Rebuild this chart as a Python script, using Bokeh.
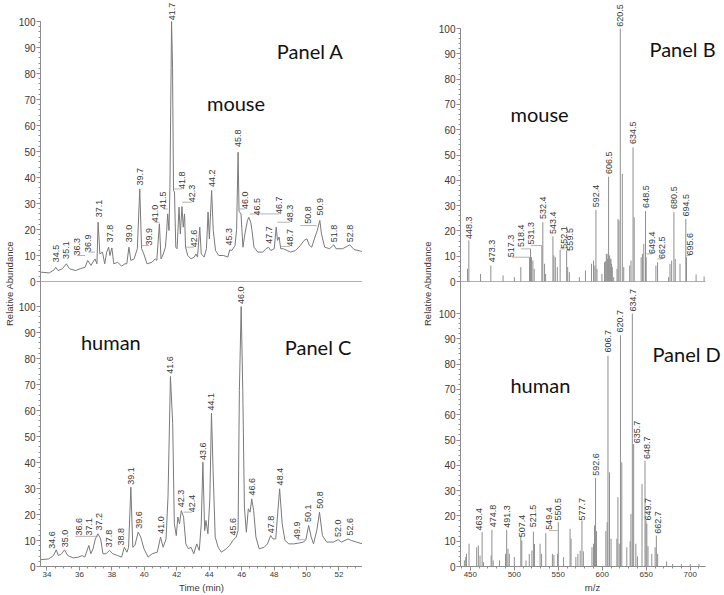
import math
from bokeh.plotting import figure
from bokeh.models import Range1d, LinearAxis, FixedTicker, Label, ColumnDataSource, CustomJSTickFormatter
from bokeh.layouts import row
from bokeh.embed import file_html
from bokeh.resources import INLINE
from bokeh.core.properties import value

# ---------------- data ----------------
abund_ticks = [0, 10, 20, 30, 40, 50, 60, 70, 80, 90, 100]
time_ticks = [34, 36, 38, 40, 42, 44, 46, 48, 50, 52]
mz_ticks = [450, 500, 550, 600, 650, 700]

# Panel A: mouse chromatogram
a_time = [33.60, 34.14, 34.44, 34.54, 34.68, 34.95, 35.19, 35.39, 35.75, 36.05, 36.35, 36.51, 36.71, 36.96,
          37.08, 37.15, 37.26, 37.42, 37.56, 37.68, 37.80, 37.88, 38.00, 38.12, 38.36, 38.60, 38.80, 38.92,
          39.05, 39.17, 39.37, 39.57, 39.72, 39.83, 39.97, 40.17, 40.47, 40.67, 40.77, 40.93, 41.03, 41.17,
          41.30, 41.38, 41.44, 41.52, 41.58, 41.68, 41.74, 41.80, 41.86, 41.94, 42.02, 42.14, 42.22, 42.32,
          42.40, 42.48, 42.54, 42.68, 42.88, 43.08, 43.18, 43.28, 43.42, 43.51, 43.69, 43.83, 43.93, 44.01,
          44.15, 44.25, 44.39, 44.59, 44.89, 45.15, 45.27, 45.39, 45.59, 45.69, 45.78, 45.84, 45.96, 46.08,
          46.20, 46.36, 46.44, 46.56, 46.64, 46.76, 47.00, 47.30, 47.50, 47.66, 47.80, 48.01, 48.13, 48.21,
          48.31, 48.41, 48.57, 48.81, 49.01, 49.31, 49.61, 49.85, 50.02, 50.18, 50.32, 50.52, 50.66, 50.82,
          50.92, 51.12, 51.42, 51.68, 51.82, 52.22, 52.67, 52.93, 53.33, 53.45]
a_abund = [3.6, 3.3, 4.5, 5.5, 4.2, 4.9, 6.8, 4.9, 4.2, 4.9, 5.5, 8.1, 6.2, 8.7,
           6.8, 22.8, 10.6, 11.3, 6.8, 11.3, 13.2, 10.0, 12.9, 6.8, 7.4, 5.9, 6.8, 6.8,
           13.2, 8.1, 8.7, 12.6, 35.6, 12.6, 10.6, 6.8, 7.4, 8.7, 8.1, 22.2, 8.7, 10.6,
           13.2, 19.6, 26.0, 19.6, 36.3, 100.0, 82.4, 35.0, 34.4, 13.2, 12.6, 28.6, 18.3, 28.8,
           20.9, 26.0, 13.2, 10.0, 8.7, 9.4, 10.6, 9.4, 20.9, 10.6, 9.4, 12.6, 26.7, 16.4,
           35.0, 19.6, 11.9, 10.0, 10.0, 9.4, 12.2, 11.9, 13.8, 20.0, 49.7, 27.0, 26.0, 13.2,
           18.3, 23.5, 24.7, 22.8, 19.6, 13.2, 11.3, 11.3, 12.6, 13.2, 11.9, 12.6, 20.9, 15.8,
           17.1, 12.6, 12.6, 11.9, 11.3, 11.9, 13.8, 15.8, 16.4, 13.8, 13.2, 17.1, 19.6, 23.5,
           18.3, 13.2, 12.6, 14.1, 12.6, 12.6, 14.1, 12.3, 11.7, 11.5]
a_lab_text = ["34.5", "35.1", "36.3", "36.9", "37.1", "37.8", "39.0", "39.7", "39.9", "41.0", "41.5", "41.7",
              "41.8", "42.3", "42.6", "44.2", "45.3", "45.8", "46.0", "46.5", "46.7", "47.7", "48.3", "48.7",
              "50.8", "50.9", "51.8", "52.8"]
a_lab_x = [34.54, 35.19, 35.85, 36.55, 37.18, 37.88, 39.07, 39.73, 40.31, 40.63, 41.17, 41.68,
           42.32, 42.92, 43.06, 44.15, 45.25, 45.78, 46.20, 46.92, 48.31, 47.66, 48.97, 48.97,
           50.12, 50.82, 51.68, 52.67]
a_lab_y = [7.4, 8.7, 10.0, 11.3, 24.7, 15.1, 15.1, 36.9, 13.8, 22.8, 27.9, 100.5,
           35.6, 30.5, 13.2, 36.3, 13.8, 51.7, 27.9, 25.4, 26.0, 14.5, 22.8, 13.5,
           22.2, 25.4, 15.1, 15.1]
a_lead_x0 = [35.85, 36.55, 39.83, 40.63, 41.17, 41.80, 42.32, 42.54, 45.88, 46.50, 48.21, 48.41, 49.62]
a_lead_x1 = [36.35, 36.96, 40.31, 40.93, 41.44, 42.32, 42.92, 43.06, 46.20, 48.31, 48.97, 48.97, 50.62]
a_lead_y = [10.0, 11.3, 13.8, 22.8, 27.9, 35.6, 30.5, 13.2, 27.9, 26.0, 22.8, 13.5, 21.5]

# Panel C: human chromatogram
c_time = [33.55, 34.10, 34.40, 34.57, 34.70, 34.90, 35.08, 35.28, 35.62, 35.93, 36.17, 36.33, 36.58, 36.70,
          36.84, 36.98, 37.14, 37.31, 37.45, 37.65, 37.85, 38.06, 38.36, 38.60, 38.77, 38.93, 39.03, 39.17,
          39.29, 39.42, 39.62, 39.78, 39.98, 40.23, 40.49, 40.80, 41.00, 41.16, 41.34, 41.46, 41.61, 41.75,
          41.85, 41.97, 42.07, 42.17, 42.28, 42.42, 42.56, 42.72, 42.88, 43.05, 43.23, 43.39, 43.51, 43.61,
          43.72, 43.80, 43.92, 44.04, 44.14, 44.24, 44.37, 44.55, 44.75, 45.05, 45.26, 45.46, 45.66, 45.78,
          45.86, 45.97, 46.07, 46.17, 46.29, 46.41, 46.52, 46.62, 46.74, 46.88, 47.08, 47.39, 47.59, 47.79,
          47.93, 48.10, 48.34, 48.50, 48.67, 48.91, 49.21, 49.52, 49.82, 49.96, 50.13, 50.29, 50.43, 50.63,
          50.80, 50.98, 51.24, 51.65, 51.95, 52.15, 52.56, 52.76, 53.07, 53.45]
c_abund = [2.6, 2.9, 4.2, 6.4, 4.2, 4.9, 6.4, 4.2, 3.3, 3.6, 4.2, 3.6, 8.1, 4.9,
           6.8, 10.6, 12.6, 10.6, 4.9, 4.9, 6.2, 4.9, 4.2, 3.6, 7.4, 5.5, 7.4, 30.5,
           7.4, 8.1, 13.2, 11.3, 6.8, 3.6, 4.9, 5.5, 11.3, 7.4, 10.6, 26.7, 73.1, 54.9,
           16.4, 11.9, 19.0, 16.4, 21.5, 19.0, 8.7, 6.8, 7.4, 4.9, 8.7, 6.2, 16.4, 40.1,
           13.8, 17.7, 12.6, 26.0, 59.0, 36.9, 11.3, 7.4, 5.5, 6.8, 8.1, 10.0, 11.3, 13.8,
           67.7, 100.0, 67.7, 22.8, 13.2, 22.2, 20.9, 26.0, 21.5, 11.3, 6.8, 7.4, 8.7, 11.9,
           10.6, 10.6, 29.9, 16.4, 10.0, 8.7, 8.7, 9.0, 9.4, 10.3, 15.8, 11.3, 8.7, 13.8,
           20.9, 11.9, 9.4, 9.4, 10.3, 9.4, 10.6, 10.0, 9.4, 8.7]
c_lab_text = ["34.6", "35.0", "36.6", "37.1", "37.2", "37.8", "38.8", "39.1", "39.6", "41.0", "41.6", "42.3",
              "42.4", "43.6", "44.1", "45.6", "46.0", "46.6", "47.8", "48.4", "49.9", "50.1", "50.8", "52.0",
              "52.6"]
c_lab_x = [34.30, 35.12, 35.95, 36.62, 37.22, 37.85, 38.56, 39.19, 39.68, 41.04, 41.61, 42.28,
           42.92, 43.59, 44.14, 45.46, 45.97, 46.64, 47.79, 48.34, 49.42, 50.09, 50.84, 51.91,
           52.66]
c_lab_y = [6.8, 7.4, 11.9, 11.9, 13.8, 7.4, 8.1, 31.4, 14.5, 12.6, 74.1, 22.8,
           20.9, 41.0, 60.0, 11.9, 101.0, 27.3, 12.8, 31.2, 10.6, 17.1, 22.2, 11.3,
           11.9]
c_lead_x0 = [35.75, 42.42, 49.42]
c_lead_x1 = [37.15, 42.92, 49.96]
c_lead_y = [11.6, 20.9, 10.3]

# Panel B: mouse spectrum
b_mz = [446.8, 448.3, 461.6, 473.3, 487.2, 500.1, 507.4, 517.3, 518.4, 519.6, 521.1, 522.6, 531.3, 532.4,
        534.4, 535.6, 543.9, 545.0, 546.6, 548.9, 552.1, 559.5, 560.7, 562.6, 574.0, 580.9, 587.8, 590.1,
        591.6, 592.8, 594.0, 599.6, 602.6, 603.5, 604.6, 605.5, 606.2, 607.2, 608.4, 609.1, 609.9, 610.6,
        611.4, 613.0, 616.8, 617.9, 619.0, 620.5, 622.8, 624.4, 631.2, 632.7, 635.0, 636.3, 644.2, 645.7,
        647.2, 649.2, 650.0, 661.0, 662.9, 675.4, 677.0, 678.9, 681.5, 683.0, 688.4, 695.0, 695.8, 706.7,
        715.8]
b_int = [5.0, 16.2, 3.0, 6.3, 2.4, 1.7, 5.7, 9.6, 12.9, 9.6, 8.3, 5.0, 14.2, 23.4,
         7.0, 3.0, 17.8, 10.3, 9.6, 5.7, 12.5, 12.3, 5.7, 3.7, 1.7, 4.3, 7.0, 8.3,
         6.3, 28.3, 5.0, 3.0, 7.6, 8.0, 10.9, 11.0, 9.0, 41.4, 10.3, 9.0, 8.9, 7.0,
         5.7, 1.7, 5.0, 24.7, 24.1, 100.0, 42.5, 5.7, 6.3, 8.3, 53.0, 25.4, 9.6, 10.9,
         14.9, 27.8, 9.6, 6.3, 7.6, 1.7, 7.0, 8.3, 27.4, 8.9, 7.0, 24.7, 9.6, 2.8,
         2.0]
b_lab_text = ["448.3", "473.3", "517.3", "518.4", "531.3", "532.4", "543.4", "552.1", "559.5", "592.4",
              "606.5", "620.5", "634.5", "648.5", "649.4", "662.5", "680.5", "694.5", "695.6"]
b_lab_x = [449.0, 474.2, 495.9, 507.4, 518.8, 532.5, 544.3, 556.9, 563.4, 593.1,
           607.2, 620.6, 635.4, 649.5, 656.0, 667.4, 681.9, 695.3, 699.8]
b_lab_y = [16.8, 7.6, 9.6, 13.6, 14.6, 24.7, 18.8, 12.9, 12.2, 29.3,
           42.5, 100.7, 54.3, 29.1, 10.9, 8.9, 28.7, 25.7, 10.3]
b_lead_x0 = [497.5, 507.4, 518.8, 552.1, 559.5, 650.0, 662.9, 695.8]
b_lead_x1 = [517.3, 518.4, 531.3, 556.9, 563.4, 656.0, 667.4, 699.8]
b_lead_y = [9.6, 12.9, 14.2, 12.9, 12.2, 10.9, 8.9, 10.3]

# Panel D: human spectrum
d_mz = [443.2, 444.7, 445.6, 448.5, 457.2, 459.1, 461.0, 463.4, 465.0, 473.6, 474.5, 476.0, 483.2, 490.0,
        491.3, 492.8, 494.3, 500.0, 507.4, 508.5, 513.3, 517.0, 520.0, 521.7, 523.0, 529.3, 531.0, 535.8,
        543.3, 545.0, 549.2, 550.0, 556.0, 563.4, 564.5, 570.0, 572.3, 574.9, 576.9, 578.5, 588.3, 590.1,
        591.2, 592.4, 593.5, 604.1, 605.6, 606.5, 608.2, 610.0, 616.6, 617.8, 619.3, 620.7, 622.2, 627.9,
        631.7, 632.6, 634.2, 635.7, 638.2, 640.0, 645.2, 648.6, 649.7, 650.7, 652.0, 656.3, 660.1, 661.5,
        663.0, 673.2, 680.0, 690.0, 700.0, 710.0]
d_int = [2.4, 3.7, 5.0, 9.0, 7.6, 8.3, 4.3, 13.6, 1.7, 4.3, 14.5, 2.4, 2.4, 5.0,
         14.5, 7.0, 5.0, 3.7, 12.2, 10.3, 2.4, 5.0, 6.3, 13.8, 8.9, 9.0, 5.0, 13.2,
         5.0, 4.5, 5.0, 17.5, 3.7, 14.9, 11.0, 3.7, 5.0, 6.3, 18.2, 6.0, 7.6, 9.0,
         16.2, 35.0, 14.0, 14.0, 17.5, 83.3, 37.2, 11.0, 11.0, 27.4, 9.0, 91.4, 41.2, 7.6,
         9.9, 20.8, 100.0, 48.4, 9.0, 4.0, 32.6, 41.8, 18.2, 17.0, 8.0, 5.0, 7.6, 12.2,
         5.0, 2.0, 1.0, 1.0, 1.0, 1.0]
d_lab_text = ["463.4", "474.8", "491.3", "507.4", "521.5", "549.4", "550.5", "577.7", "592.6", "606.7",
              "620.7", "634.7", "635.7", "648.7", "649.7", "662.7"]
d_lab_x = [460.2, 476.1, 491.2, 508.5, 521.4, 539.5, 549.7, 577.3, 592.4, 606.4,
           620.7, 634.7, 640.0, 651.3, 652.0, 663.4]
d_lab_y = [14.2, 15.5, 15.3, 11.6, 15.5, 14.5, 18.2, 18.2, 35.9, 84.6,
           92.5, 100.8, 48.7, 42.5, 18.2, 12.9]
d_lead_x0 = [539.5]
d_lead_x1 = [549.4]
d_lead_y = [14.2]

# ---------------- layout (page pixels) ----------------
H = 595
BB = 29
FH = H - BB
LW, RW = 362, 362
A0, A100, C0, C100 = 281, 21, FH, 306
B0, B100, D0, D100 = 281, 28, FH, 313

FONT = "Liberation Sans"
AX_COL = "#8c8c8c"
TXT_COL = "#3a3a3a"
TRACE_COL = "#7a7a7a"
STICK_COL = "#8f8f8f"


def val_at(y, zero, hund):
    return (zero - y) / (zero - hund) * 100.0


def build(width, bl, br, xr, tz, th, bz, bh, name):
    yr = Range1d(val_at(FH, bz, bh), val_at(0, bz, bh))
    p = figure(width=width, height=H, x_range=xr, y_range=yr, output_backend="svg",
               toolbar_location=None, x_axis_location=None, y_axis_location=None,
               min_border_left=bl, min_border_right=br, min_border_top=0, min_border_bottom=BB,
               outline_line_color=None, background_fill_color="white", border_fill_color="white")
    p.extra_y_ranges = {name: Range1d(val_at(FH, tz, th), val_at(0, tz, th))}
    p.grid.visible = False
    off = (bz - tz) / (bz - bh) * 100.0
    scl = (tz - th) / (bz - bh)
    major = [float(v) for v in abund_ticks] + [off + v * scl for v in abund_ticks]
    minor = [float(v) for v in range(0, 101, 2)] + [off + v * scl for v in range(0, 101, 2)]
    thr = (100.0 + off) / 2.0
    fmt = CustomJSTickFormatter(code=f"var v = tick > {thr} ? (tick - {off}) / {scl} : tick; return Math.round(v).toString();")
    yax = LinearAxis(ticker=FixedTicker(ticks=major, minor_ticks=minor), formatter=fmt,
                     bounds=(0, off + 100 * scl),
                     axis_line_color=AX_COL, major_tick_line_color=AX_COL, minor_tick_line_color=AX_COL,
                     major_tick_out=4, major_tick_in=0, minor_tick_out=2, minor_tick_in=0,
                     major_label_standoff=1, major_label_text_font=FONT,
                     major_label_text_font_size="10px", major_label_text_color=TXT_COL,
                     axis_label="Relative Abundance", axis_label_text_font=FONT,
                     axis_label_text_font_size="9.5px", axis_label_text_font_style="normal",
                     axis_label_text_color=TXT_COL)
    return p, yax


def peak_labels(p, xs, ys, texts, rname=None):
    src = ColumnDataSource(dict(x=xs, y=ys, t=texts))
    kw = {} if rname is None else {"y_range_name": rname}
    p.text(x="x", y="y", text="t", source=src, angle=math.pi / 2, text_align="left",
           text_baseline="middle", text_font=value(FONT), text_font_size="9px",
           text_color=TXT_COL, **kw)


def leaders(p, x0, x1, y, rname=None):
    kw = {} if rname is None else {"y_range_name": rname}
    p.segment(x0=x0, x1=x1, y0=y, y1=y, line_color="#a0a0a0", line_width=0.8, **kw)


def x_axis(ticks, minors, label, bounds):
    return LinearAxis(ticker=FixedTicker(ticks=ticks, minor_ticks=minors), axis_label=label, bounds=bounds,
                      axis_line_color=AX_COL, major_tick_line_color=AX_COL, minor_tick_line_color=AX_COL,
                      major_tick_out=4, major_tick_in=0, minor_tick_out=2, minor_tick_in=0,
                      major_label_standoff=1, major_label_text_font=FONT,
                      major_label_text_font_size="8px", major_label_text_color=TXT_COL,
                      axis_label_standoff=2, axis_label_text_font=FONT,
                      axis_label_text_font_size="9.5px", axis_label_text_font_style="normal",
                      axis_label_text_color=TXT_COL)


def panel_text(p, x, y, text, rname=None):
    kw = {} if rname is None else {"y_range_name": rname}
    p.add_layout(Label(x=x, y=y, text=text, text_font="Lato", text_font_size="20px",
                       text_color="#111111", text_baseline="alphabetic", **kw))


# ---------------- left column: panels A and C ----------------
lx = Range1d(33.6, 53.45)
pl, yl = build(LW, 35, 0, lx, A0, A100, C0, C100, "a")
yl.axis_label_standoff = 1
pl.add_layout(yl, "left")
pl.add_layout(x_axis(time_ticks, [33.5 + 0.5 * i for i in range(41)], "Time (min)", (lx.start, lx.end)), "below")

pl.line(x=[lx.start, lx.end], y=[0, 0], y_range_name="a", line_color="#b0b0b0", line_width=1)
pl.line(a_time, a_abund, y_range_name="a", line_color=TRACE_COL, line_width=1)
pl.line(c_time, c_abund, line_color=TRACE_COL, line_width=1)
leaders(pl, a_lead_x0, a_lead_x1, a_lead_y, "a")
leaders(pl, c_lead_x0, c_lead_x1, c_lead_y)
peak_labels(pl, a_lab_x, a_lab_y, a_lab_text, "a")
peak_labels(pl, c_lab_x, c_lab_y, c_lab_text)

panel_text(pl, 48.17, 88.8, "Panel A", "a")
panel_text(pl, 43.86, 68.8, "mouse", "a")
panel_text(pl, 48.66, 84.6, "Panel C")
panel_text(pl, 36.09, 86.3, "human")

# ---------------- right column: panels B and D ----------------
MZ_MIN, MZ_MAX = 438.8, 717.5
rx = Range1d(MZ_MIN, 739.0)
pr, yr_ax = build(RW, 98, 0, rx, B0, B100, D0, D100, "b")
yr_ax.axis_label_standoff = 3
pr.add_layout(yr_ax, "left")
pr.add_layout(x_axis(mz_ticks, [440 + 10 * i for i in range(28)], "m/z", (MZ_MIN, MZ_MAX)), "below")

pr.line(x=[MZ_MIN, MZ_MAX], y=[0, 0], y_range_name="b", line_color="#b0b0b0", line_width=1)
pr.segment(x0=b_mz, x1=b_mz, y0=[0] * len(b_mz), y1=b_int, y_range_name="b", line_color=STICK_COL, line_width=1)
pr.segment(x0=d_mz, x1=d_mz, y0=[0] * len(d_mz), y1=d_int, line_color=STICK_COL, line_width=1)
leaders(pr, b_lead_x0, b_lead_x1, b_lead_y, "b")
leaders(pr, d_lead_x0, d_lead_x1, d_lead_y)
peak_labels(pr, b_lab_x, b_lab_y, b_lab_text, "b")
peak_labels(pr, d_lab_x, d_lab_y, d_lab_text)

panel_text(pr, 653.7, 91.7, "Panel B", "b")
panel_text(pr, 495.6, 66.4, "mouse", "b")
panel_text(pr, 657.0, 84.1, "Panel D")
panel_text(pr, 495.6, 71.8, "human")

layout = row(pl, pr)
open("out.html", "w").write(file_html(layout, INLINE))
